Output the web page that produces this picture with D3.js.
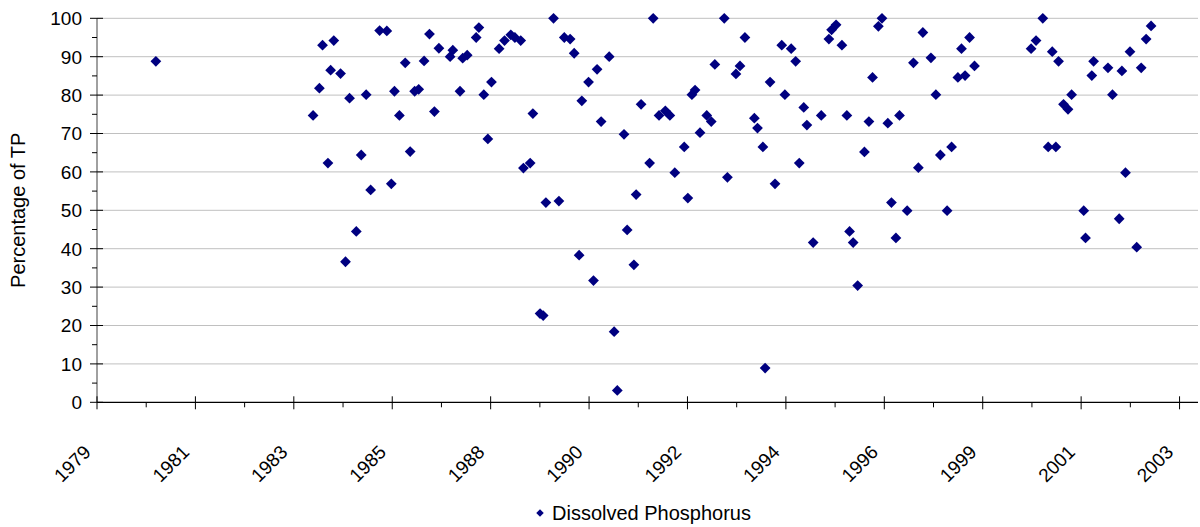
<!DOCTYPE html>
<html>
<head>
<meta charset="utf-8">
<script src="https://cdn.jsdelivr.net/npm/d3@7"></script>
<style>
  html, body { margin: 0; padding: 0; background: #ffffff; }
  svg { display: block; }
  text { font-family: Arial, "Liberation Sans", Helvetica, sans-serif; fill: #000; }
</style>
</head>
<body>
<svg id="chart" width="1200" height="527"></svg>
<script>
// Sample dates (decimal years) and dissolved phosphorus as a share of total phosphorus (%)
const sampleYears = [
  1980.69,
  1984.19, 1984.33, 1984.40, 1984.52, 1984.58, 1984.65, 1984.80, 1984.91, 1985.00, 1985.15,
  1985.26, 1985.37, 1985.47, 1985.67, 1985.83, 1985.93, 1986.00, 1986.11, 1986.24, 1986.35,
  1986.45, 1986.54, 1986.66, 1986.78, 1986.89, 1986.99, 1987.24, 1987.30, 1987.46, 1987.52,
  1987.62, 1987.82, 1987.88, 1987.99, 1988.08, 1988.16, 1988.33, 1988.45, 1988.59, 1988.68,
  1988.81, 1988.87, 1989.02, 1989.08, 1989.24, 1989.31, 1989.37, 1989.54, 1989.66, 1989.78,
  1989.91, 1990.00, 1990.11, 1990.17, 1990.32, 1990.43, 1990.51, 1990.60, 1990.78, 1990.89,
  1990.96, 1991.11, 1991.18, 1991.33, 1991.38, 1991.49, 1991.68, 1991.76, 1991.89, 1992.03,
  1992.13, 1992.24, 1992.45, 1992.53, 1992.62, 1992.69, 1992.80, 1992.95, 1993.05, 1993.13,
  1993.34, 1993.41, 1993.60, 1993.69, 1993.80, 1994.01, 1994.08, 1994.20, 1994.25, 1994.36,
  1994.47, 1994.62, 1994.69, 1994.83, 1994.93, 1995.01, 1995.11, 1995.18, 1995.32, 1995.50,
  1995.67, 1995.73, 1995.83, 1995.96, 1996.07, 1996.13, 1996.21, 1996.31, 1996.46, 1996.56,
  1996.64, 1996.77, 1996.85, 1996.98, 1997.06, 1997.16, 1997.24, 1997.41, 1997.55, 1997.66,
  1997.76, 1997.94, 1998.05, 1998.15, 1998.30, 1998.40, 1998.54, 1998.62, 1998.70, 1998.80,
  1998.91, 2000.17, 2000.28, 2000.43, 2000.55, 2000.64, 2000.72, 2000.78, 2000.89, 2000.99,
  2001.07, 2001.34, 2001.38, 2001.52, 2001.56, 2001.88, 2001.98, 2002.13, 2002.19, 2002.27,
  2002.37, 2002.52, 2002.62, 2002.73, 2002.84
];

const dissolvedP = [
  88.8,
  74.7, 81.8, 93.0, 62.3, 86.5, 94.2, 85.6, 36.6, 79.2, 44.5,
  64.4, 80.1, 55.3, 96.8, 96.7, 56.9, 81.0, 74.7, 88.4, 65.3,
  81.0, 81.5, 88.9, 95.9, 75.7, 92.2, 90.0, 91.7, 81.0, 89.6,
  90.4, 95.0, 97.6, 80.1, 68.6, 83.4, 92.1, 94.2, 95.7, 95.0,
  94.2, 61.0, 62.3, 75.2, 23.1, 22.6, 52.0, 100.0, 52.4, 95.0,
  94.6, 90.9, 38.3, 78.5, 83.4, 31.7, 86.7, 73.1, 90.0, 18.4,
  3.1, 69.8, 44.9, 35.8, 54.1, 77.6, 62.3, 100.0, 74.7, 75.9,
  74.7, 59.8, 66.5, 53.2, 80.1, 81.3, 70.2, 74.7, 73.1, 88.0,
  100.0, 58.6, 85.5, 87.6, 95.0, 74.0, 71.4, 66.5, 8.9, 83.4,
  56.9, 93.0, 80.1, 92.1, 88.8, 62.3, 76.8, 72.2, 41.6, 74.7,
  94.6, 97.0, 98.3, 93.0, 74.7, 44.5, 41.6, 30.4, 65.2, 73.1,
  84.6, 97.9, 100.0, 72.7, 52.0, 42.8, 74.7, 49.9, 88.4, 61.1,
  96.3, 89.7, 80.1, 64.4, 49.9, 66.5, 84.6, 92.1, 85.1, 95.0,
  87.6, 92.1, 94.2, 100.0, 66.5, 91.3, 66.5, 88.8, 77.6, 76.3,
  80.1, 49.9, 42.8, 85.1, 88.8, 87.1, 80.1, 47.8, 86.3, 59.8,
  91.3, 40.4, 87.1, 94.6, 98.0
];

// Date axis: ticks every 800 days starting 20 May 1979
const xTickLabels = ["1979", "1981", "1983", "1985", "1988", "1990",
                     "1992", "1994", "1996", "1999", "2001", "2003"];
const yTickValues = [0, 10, 20, 30, 40, 50, 60, 70, 80, 90, 100];

const seriesName = "Dissolved Phosphorus";
const yTitle = "Percentage of TP";

const DAY = 24 * 3600 * 1000;
const axisStart = new Date(1979, 4, 20);
const majorDays = 800;
const axisEnd = new Date(axisStart.getTime() + 8950 * DAY);

function yearToDate(y) {
  const yr = Math.floor(y);
  const a = new Date(yr, 0, 1).getTime();
  const b = new Date(yr + 1, 0, 1).getTime();
  return new Date(a + (y - yr) * (b - a));
}

const points = sampleYears.map((y, i) => ({ date: yearToDate(y), value: dissolvedP[i] }));

const plot = { left: 97, right: 1198, top: 18.3, bottom: 402.3 };

const svg = d3.select("#chart");
svg.append("rect").attr("width", 1200).attr("height", 527).attr("fill", "#fff");

const x = d3.scaleTime().domain([axisStart, axisEnd]).range([plot.left, plot.right]);
const y = d3.scaleLinear().domain([0, 100]).range([plot.bottom, plot.top]);

const majorDates = xTickLabels.map((_, k) => new Date(axisStart.getTime() + k * majorDays * DAY));
const minorDates = xTickLabels.slice(0, -1).map((_, k) =>
  new Date(axisStart.getTime() + (k + 0.5) * majorDays * DAY));

// Horizontal gridlines
svg.append("g")
  .selectAll("line")
  .data(yTickValues.filter(v => v > 0))
  .join("line")
  .attr("x1", plot.left).attr("x2", plot.right)
  .attr("y1", d => y(d)).attr("y2", d => y(d))
  .attr("stroke", "#c0c0c0").attr("stroke-width", 1);

// Y axis
const yAxisG = svg.append("g");
yAxisG.append("line")
  .attr("x1", plot.left).attr("x2", plot.left)
  .attr("y1", plot.top).attr("y2", plot.bottom)
  .attr("stroke", "#808080").attr("stroke-width", 1.5);
yAxisG.selectAll(".major")
  .data(yTickValues)
  .join("line")
  .attr("x1", plot.left - 7).attr("x2", plot.left + 6)
  .attr("y1", d => y(d)).attr("y2", d => y(d))
  .attr("stroke", "#000").attr("stroke-width", 1);
yAxisG.selectAll(".minor")
  .data(d3.range(5, 100, 10))
  .join("line")
  .attr("x1", plot.left - 5).attr("x2", plot.left)
  .attr("y1", d => y(d)).attr("y2", d => y(d))
  .attr("stroke", "#000").attr("stroke-width", 1);
yAxisG.selectAll("text")
  .data(yTickValues)
  .join("text")
  .attr("x", 82)
  .attr("y", d => y(d))
  .attr("dy", "0.36em")
  .attr("text-anchor", "end")
  .attr("font-size", 19)
  .text(d => d);

// X axis
const xAxisG = svg.append("g");
xAxisG.append("line")
  .attr("x1", plot.left).attr("x2", plot.right)
  .attr("y1", plot.bottom).attr("y2", plot.bottom)
  .attr("stroke", "#000").attr("stroke-width", 1.2);
xAxisG.selectAll(".major")
  .data(majorDates)
  .join("line")
  .attr("x1", d => x(d)).attr("x2", d => x(d))
  .attr("y1", plot.bottom - 6).attr("y2", plot.bottom + 7)
  .attr("stroke", "#000").attr("stroke-width", 1);
xAxisG.selectAll(".minor")
  .data(minorDates)
  .join("line")
  .attr("x1", d => x(d)).attr("x2", d => x(d))
  .attr("y1", plot.bottom).attr("y2", plot.bottom + 5)
  .attr("stroke", "#000").attr("stroke-width", 1);
xAxisG.selectAll("text")
  .data(majorDates)
  .join("text")
  .attr("text-anchor", "end")
  .attr("font-size", 19)
  .attr("transform", d => `translate(${x(d) - 5},${plot.bottom + 51}) rotate(-45)`)
  .text((d, i) => xTickLabels[i]);

// Y axis title
svg.append("text")
  .attr("text-anchor", "middle")
  .attr("font-size", 20)
  .attr("transform", `translate(25,${(plot.top + plot.bottom) / 2}) rotate(-90)`)
  .text(yTitle);

// Data markers: navy diamonds
const diamond = d3.symbol().type(d3.symbolSquare).size(58);
svg.append("g")
  .selectAll("path")
  .data(points)
  .join("path")
  .attr("d", diamond)
  .attr("transform", d => `translate(${x(d.date)},${y(d.value)}) rotate(45)`)
  .attr("fill", "#000080");

// Legend
const legend = svg.append("g");
legend.append("path")
  .attr("d", d3.symbol().type(d3.symbolSquare).size(28))
  .attr("transform", "translate(540,513) rotate(45)")
  .attr("fill", "#000080");
legend.append("text")
  .attr("x", 552).attr("y", 519.5)
  .attr("font-size", 20)
  .text(seriesName);
</script>
</body>
</html>
